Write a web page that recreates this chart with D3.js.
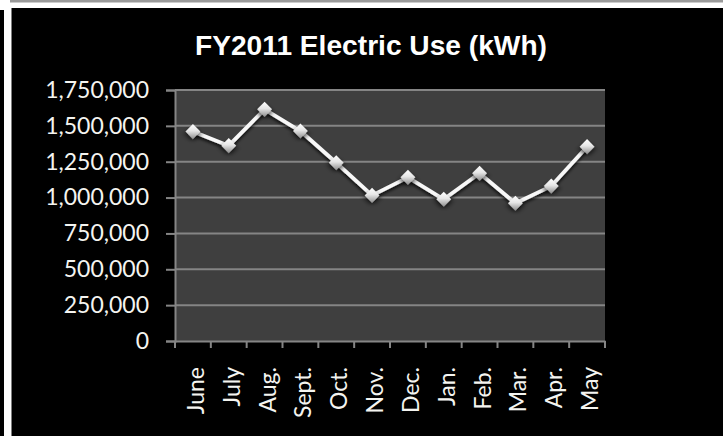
<!DOCTYPE html>
<html>
<head>
<meta charset="utf-8">
<script src="https://cdn.jsdelivr.net/npm/d3@7"></script>
<style>
  html, body { margin: 0; padding: 0; background: #fff; }
  svg { display: block; }
</style>
</head>
<body>
<svg id="chart"></svg>
<script>
const width = 723
const height = 436

const months = ['June', 'July', 'Aug.', 'Sept.', 'Oct.', 'Nov.', 'Dec.', 'Jan.', 'Feb.', 'Mar.', 'Apr.', 'May']
const kwh = [1460000, 1362000, 1615000, 1464000, 1243000, 1015000, 1141000, 988000, 1169000, 960000, 1080000, 1355000]
const yTicks = [0, 250000, 500000, 750000, 1000000, 1250000, 1500000, 1750000]
const title = 'FY2011 Electric Use (kWh)'

const plot = {left: 175, right: 605, top: 90, bottom: 341}

let svg = d3.select('#chart')
  .attr('width', width)
  .attr('height', height)

// frame around the slide
svg.append('rect').attr('x', 0).attr('y', 0).attr('width', width).attr('height', height).attr('fill', '#fff')
svg.append('rect').attr('x', 10).attr('y', 0).attr('width', width - 10).attr('height', 2.5).attr('fill', '#9a9a9a')
svg.append('rect').attr('x', 0).attr('y', 10).attr('width', 4).attr('height', height - 10).attr('fill', '#000')
svg.append('rect').attr('x', 11.5).attr('y', 8).attr('width', width - 11.5).attr('height', height - 8).attr('fill', '#000')

let defs = svg.append('defs')
let grad = defs.append('linearGradient').attr('id', 'marker-grad')
  .attr('x1', '0').attr('y1', '0').attr('x2', '0').attr('y2', '1')
grad.append('stop').attr('offset', '0%').attr('stop-color', '#ffffff')
grad.append('stop').attr('offset', '45%').attr('stop-color', '#e6e6e6')
grad.append('stop').attr('offset', '100%').attr('stop-color', '#8c8c8c')

let shadow = defs.append('filter').attr('id', 'shadow')
  .attr('x', '-50%').attr('y', '-50%').attr('width', '200%').attr('height', '200%')
shadow.append('feDropShadow')
  .attr('dx', 0).attr('dy', 2.5).attr('stdDeviation', 1.8)
  .attr('flood-color', '#000').attr('flood-opacity', 0.75)

let x = d3.scaleBand().domain(months).range([plot.left, plot.right]).padding(0)
let y = d3.scaleLinear().domain([0, 1750000]).range([plot.bottom, plot.top])

// plot area
svg.append('rect')
  .attr('x', plot.left).attr('y', plot.top)
  .attr('width', plot.right - plot.left).attr('height', plot.bottom - plot.top)
  .attr('fill', '#3f3f3f')

// gridlines
svg.append('g')
  .selectAll('line')
  .data(yTicks.filter(d => d > 0))
  .join('line')
  .attr('x1', plot.left).attr('x2', plot.right)
  .attr('y1', d => y(d)).attr('y2', d => y(d))
  .attr('stroke', '#858585')
  .attr('stroke-width', 2)

// y axis
let yAxis = svg.append('g')
  .attr('transform', `translate(${plot.left},0)`)
  .call(d3.axisLeft(y).tickValues(yTicks).tickSize(9).tickPadding(17).tickFormat(d3.format(',')))
yAxis.select('.domain').attr('stroke', '#858585').attr('stroke-width', 2)
yAxis.selectAll('.tick line').attr('stroke', '#858585').attr('stroke-width', 2)
yAxis.selectAll('.tick text')
  .attr('fill', '#f4f4f0')
  .style('font-family', 'Lato, "Open Sans", sans-serif')
  .style('font-size', '23px')

// x axis
let xAxis = svg.append('g')
  .attr('transform', `translate(0,${plot.bottom})`)
  .call(d3.axisBottom(x).tickSize(0).tickFormat(''))
xAxis.select('.domain').attr('stroke', '#858585').attr('stroke-width', 2)
xAxis.selectAll('.tick').remove()

let edges = months.map(m => x(m)).concat([plot.right])
svg.append('g')
  .selectAll('line')
  .data(edges)
  .join('line')
  .attr('x1', d => d).attr('x2', d => d)
  .attr('y1', plot.bottom).attr('y2', plot.bottom + 7)
  .attr('stroke', '#858585')
  .attr('stroke-width', 2)

svg.append('g')
  .selectAll('text')
  .data(months)
  .join('text')
  .attr('transform', d => `translate(${x(d) + x.bandwidth() / 2 + 11},367) rotate(-90)`)
  .attr('text-anchor', 'end')
  .attr('fill', '#f4f4f0')
  .style('font-family', 'Lato, "Open Sans", sans-serif')
  .style('font-size', '23px')
  .text(d => d)

// line
let points = months.map((m, i) => ({m, v: kwh[i]}))
let line = d3.line()
  .x(d => x(d.m) + x.bandwidth() / 2)
  .y(d => y(d.v))

svg.append('path')
  .attr('d', line(points))
  .attr('fill', 'none')
  .attr('stroke', '#f8f8f8')
  .attr('stroke-width', 3.8)
  .attr('stroke-linejoin', 'round')
  .attr('filter', 'url(#shadow)')

let diamond = d3.symbol().type(d3.symbolDiamond).size(66)
svg.append('g')
  .selectAll('path')
  .data(points)
  .join('path')
  .attr('d', diamond)
  .attr('transform', d => `translate(${x(d.m) + x.bandwidth() / 2},${y(d.v)}) scale(1.7,1)`)
  .attr('fill', 'url(#marker-grad)')
  .attr('filter', 'url(#shadow)')

// title
svg.append('text')
  .attr('x', 371)
  .attr('y', 55)
  .attr('text-anchor', 'middle')
  .attr('fill', '#fff')
  .attr('textLength', 352)
  .attr('lengthAdjust', 'spacingAndGlyphs')
  .style('font-family', '"Liberation Sans", Arial, sans-serif')
  .style('font-weight', 'bold')
  .style('font-size', '27px')
  .text(title)
</script>
</body>
</html>
